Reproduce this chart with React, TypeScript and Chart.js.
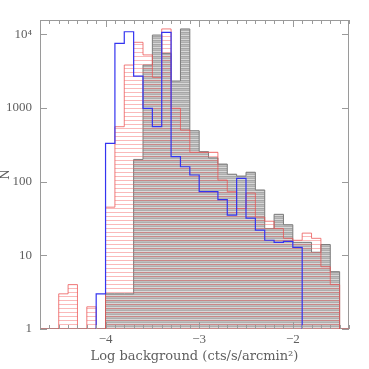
import React, { useEffect, useRef } from 'react';
import { Chart, registerables } from 'chart.js';

Chart.register(...registerables);

// Left edges of the 0.1-wide bins (log background), and the right edge of the last bin
const BIN_LEFT = [
  -4.7, -4.6, -4.5, -4.4, -4.3, -4.2, -4.1, -4.0, -3.9, -3.8, -3.7,
  -3.6, -3.5, -3.4, -3.3, -3.2, -3.1, -3.0, -2.9, -2.8, -2.7, -2.6,
  -2.5, -2.4, -2.3, -2.2, -2.1, -2.0, -1.9, -1.8, -1.7, -1.6, -1.5,
];
const BIN_LAST_RIGHT = -1.4;

// Counts per bin
const GRAY_COUNTS = [
  0, 0, 0, 0, 0, 0, 0, 3, 3, 3, 200,
  3820, 9750, 5500, 2320, 11800, 490, 255, 210, 173, 126, 119,
  134, 77, 23, 36, 26, 15, 15, 11, 14, 6, 0,
];
const RED_COUNTS = [
  0, 0, 3, 4, 0, 2, 0, 45, 556, 3820, 7770,
  5240, 2600, 11800, 988, 500, 250, 250, 250, 105, 73, 43,
  70, 33, 29, 23, 17, 16, 20, 17, 7, 4, 0,
];
const BLUE_COUNTS = [
  0, 0, 0, 0, 0, 0, 3, 331, 7530, 10800, 2700,
  988, 556, 10600, 218, 159, 123, 73, 73, 57, 35, 111,
  32, 22, 16, 15, 15.5, 12.8, 0, 0, 0, 0, 0,
];

const X_TICKS = [-4, -3, -2];
const Y_TICKS = [1, 10, 100, 1000, 10000];
const X_MIN = -4.7;
const X_MAX = -1.4;
const Y_MIN = 1;
const Y_MAX = 15600;

const TEXT_COLOR = '#606060';
const FRAME_COLOR = '#9a9a9a';

// empty bins are drawn either on the axis floor or just below it (hidden by clipping)
function toSteps(counts: number[], emptyOnFloor: boolean) {
  const empty = emptyOnFloor ? Y_MIN : Y_MIN / 2;
  const pts = BIN_LEFT.map((x, i) => ({ x, y: counts[i] > 0 ? counts[i] : empty }));
  const last = counts[counts.length - 1];
  pts.push({ x: BIN_LAST_RIGHT, y: last > 0 ? last : empty });
  return pts;
}

function makeHatch(rows: (string | null)[]): CanvasPattern {
  const c = document.createElement('canvas');
  c.width = 8;
  c.height = rows.length;
  const g = c.getContext('2d') as CanvasRenderingContext2D;
  rows.forEach((col, i) => {
    if (col) {
      g.fillStyle = col;
      g.fillRect(0, i, 8, 1);
    }
  });
  return g.createPattern(c, 'repeat') as CanvasPattern;
}

const framePlugin = {
  id: 'frameTicks',
  beforeDatasetsDraw(chart: any) {
    const { ctx, chartArea } = chart;
    const { left, right, top, bottom } = chartArea;
    ctx.save();
    ctx.strokeStyle = FRAME_COLOR;
    ctx.lineWidth = 1;
    ctx.strokeRect(left + 0.5, top + 0.5, right - left - 1, bottom - top - 1);
    ctx.restore();
  },
  afterDatasetsDraw(chart: any) {
    const { ctx, chartArea } = chart;
    const { left, right, top, bottom } = chartArea;
    const xs = chart.scales.x;
    const ys = chart.scales.y;
    ctx.save();
    ctx.strokeStyle = FRAME_COLOR;
    ctx.lineWidth = 1;
    ctx.beginPath();
    const n = Math.round((X_MAX - X_MIN) * 10);
    for (let i = 0; i <= n; i++) {
      const v = X_MIN + i / 10;
      const px = Math.round(xs.getPixelForValue(v)) + 0.5;
      const major = Math.abs(v - Math.round(v)) < 1e-6;
      const len = major ? 7 : 4;
      ctx.moveTo(px, bottom);
      ctx.lineTo(px, bottom - len);
      ctx.moveTo(px, top);
      ctx.lineTo(px, top + len);
    }
    Y_TICKS.forEach((v) => {
      const py = Math.round(ys.getPixelForValue(v)) + 0.5;
      ctx.moveTo(left, py);
      ctx.lineTo(left + 7, py);
      ctx.moveTo(right, py);
      ctx.lineTo(right - 7, py);
    });
    ctx.stroke();
    ctx.restore();
  },
};

export default function App() {
  const ref = useRef<HTMLCanvasElement | null>(null);

  useEffect(() => {
    if (!ref.current) return;
    const grayPattern = makeHatch(['#a6a6a6', '#bebebe', '#aeaeae', '#d8d8d8']);
    const redPattern = makeHatch(['rgba(245,100,100,0.45)', null, null, null]);
    const tickFont = { family: "'Liberation Serif', serif", size: 13 };
    const titleFont = { family: "'DejaVu Serif', serif", size: 13 };

    const chart = new Chart(ref.current, {
      type: 'line',
      data: {
        datasets: [
          {
            label: 'blue',
            data: toSteps(BLUE_COUNTS, false),
            borderColor: '#3434f0',
            borderWidth: 1.2,
            fill: false,
            stepped: true,
            pointRadius: 0,
          },
          {
            label: 'red',
            data: toSteps(RED_COUNTS, true),
            borderColor: 'rgba(235,80,80,0.75)',
            borderWidth: 1,
            backgroundColor: redPattern,
            fill: 'start',
            stepped: true,
            pointRadius: 0,
          },
          {
            label: 'gray',
            data: toSteps(GRAY_COUNTS, false),
            borderColor: '#7c7c7c',
            borderWidth: 1,
            backgroundColor: grayPattern,
            fill: 'start',
            stepped: true,
            pointRadius: 0,
          },
        ],
      } as any,
      options: {
        animation: false,
        responsive: false,
        devicePixelRatio: 1,
        layout: { padding: { top: 20, right: 20, left: 0, bottom: 0 } },
        plugins: { legend: { display: false }, tooltip: { enabled: false } },
        scales: {
          x: {
            type: 'linear',
            min: X_MIN,
            max: X_MAX,
            grid: { display: false, drawTicks: false },
            border: { display: false },
            afterBuildTicks: (s: any) => {
              s.ticks = X_TICKS.map((v) => ({ value: v }));
            },
            afterFit: (s: any) => {
              s.height = 40;
            },
            ticks: {
              padding: 3,
              color: TEXT_COLOR,
              font: tickFont,
              maxRotation: 0,
              autoSkip: false,
              callback: (v: any) => String(v).replace('-', '\u2212'),
            },
            title: {
              display: true,
              text: 'Log background (cts/s/arcmin\u00B2)',
              color: TEXT_COLOR,
              font: titleFont,
              padding: { top: 0, bottom: 5 },
            },
          },
          y: {
            type: 'logarithmic',
            min: Y_MIN,
            max: Y_MAX,
            grid: { display: false, drawTicks: false },
            border: { display: false },
            afterBuildTicks: (s: any) => {
              s.ticks = Y_TICKS.map((v) => ({ value: v }));
            },
            afterFit: (s: any) => {
              s.width = 40;
            },
            ticks: {
              padding: 8,
              color: TEXT_COLOR,
              font: tickFont,
              autoSkip: false,
              callback: (v: any) => (Number(v) === 10000 ? '10\u2074' : String(v)),
            },
            title: {
              display: true,
              text: 'N',
              color: TEXT_COLOR,
              font: { family: "'DejaVu Serif', serif", size: 12, lineHeight: 1 },
              padding: { top: 0, bottom: 0 },
            },
          },
        },
      } as any,
      plugins: [framePlugin],
    });
    return () => chart.destroy();
  }, []);

  return (
    <div style={{ position: 'fixed', left: 0, top: 0, width: 369, height: 369, background: '#fff' }}>
      <canvas ref={ref} width={369} height={369} style={{ width: 369, height: 369, display: 'block' }} />
    </div>
  );
}
